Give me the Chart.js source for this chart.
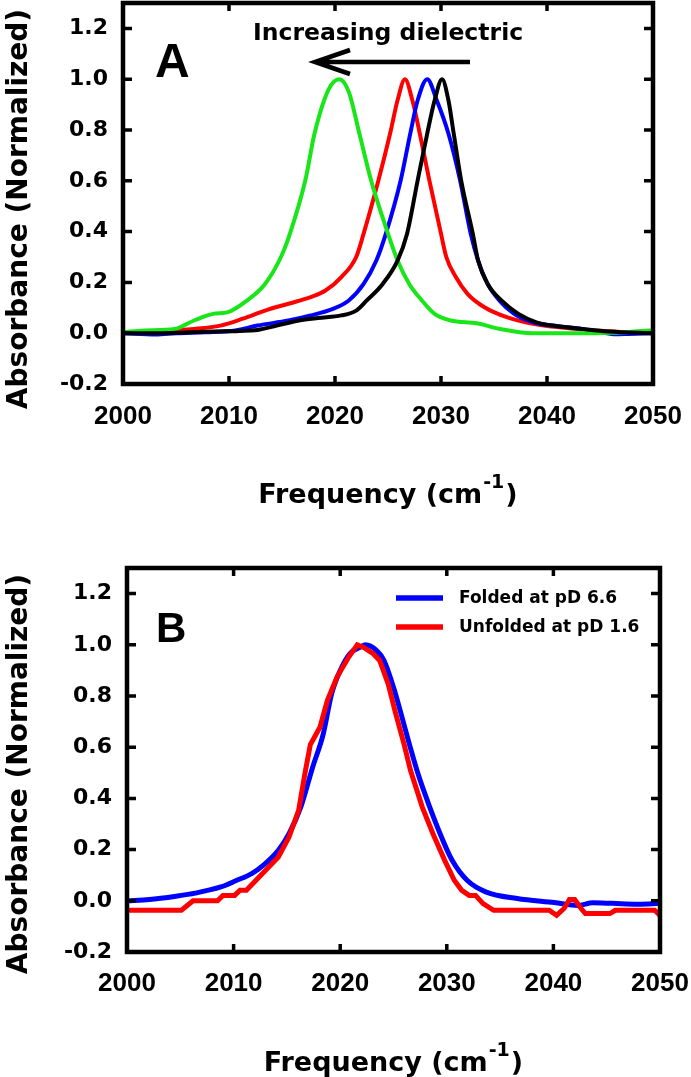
<!DOCTYPE html>
<html><head><meta charset="utf-8">
<script src="https://cdn.jsdelivr.net/npm/chart.js@4.4.1/dist/chart.umd.min.js"></script>
<style>
html,body{margin:0;padding:0;background:#fff;width:691px;height:1077px;overflow:hidden}
canvas{position:absolute;left:0}
#cA{top:0}
#cB{top:538px}
</style></head><body>
<canvas id="cA" width="691" height="538"></canvas>
<canvas id="cB" width="691" height="539"></canvas>
<script>
// ---- tick labels ----
const xTicks = [2000, 2010, 2020, 2030, 2040, 2050];
const yTicks = [-0.2, 0, 0.2, 0.4, 0.6, 0.8, 1.0, 1.2];

// ---- Panel A series ----
const aGreenFreq = [2000, 2002, 2004.9, 2006.7, 2008.5, 2009.9, 2011.7, 2013.4, 2014.9, 2015.75, 2017.2, 2018.07, 2019.4, 2020.4, 2021.3, 2022.3, 2023.4, 2025.0, 2025.9, 2027.0, 2028.2, 2029.4, 2030.9, 2033.4, 2035.5, 2038.7, 2042.2, 2047.6, 2049.7, 2050];
const aGreenAbs  = [0.004, 0.011, 0.017, 0.05, 0.076, 0.083, 0.129, 0.194, 0.30, 0.392, 0.602, 0.786, 0.96, 1.0, 0.95, 0.786, 0.602, 0.392, 0.286, 0.194, 0.129, 0.076, 0.05, 0.039, 0.017, 0.0, 0.0, 0.004, 0.011, 0.008];

const aRedFreq = [2000, 2003.1, 2006.7, 2009.2, 2011.3, 2013.4, 2015.6, 2017.7, 2019.1, 2020.6, 2022.0, 2022.7, 2024.1, 2025.2, 2025.9, 2026.6, 2027.3, 2028.0, 2028.9, 2030.0, 2030.5, 2031.4, 2032.5, 2034.1, 2036.2, 2038.7, 2042.6, 2045.8, 2050];
const aRedAbs  = [0.004, 0.008, 0.017, 0.03, 0.057, 0.089, 0.116, 0.142, 0.168, 0.221, 0.30, 0.392, 0.602, 0.786, 0.917, 1.0, 0.917, 0.786, 0.602, 0.392, 0.30, 0.221, 0.155, 0.102, 0.063, 0.037, 0.017, 0.008, 0.0];

const aBlueFreq = [2000, 2003.1, 2005, 2007.8, 2010.6, 2012.7, 2015.6, 2017.7, 2019.8, 2021.3, 2022.7, 2023.9, 2024.8, 2026.2, 2027.1, 2027.8, 2028.7, 2029.6, 2030.7, 2031.8, 2032.8, 2033.5, 2034.4, 2035.5, 2036.9, 2038.7, 2040.5, 2043.3, 2045.1, 2046.5, 2047.6, 2050];
const aBlueAbs  = [0.0, -0.005, 0.0, 0.004, 0.011, 0.03, 0.05, 0.07, 0.096, 0.129, 0.194, 0.286, 0.392, 0.602, 0.786, 0.917, 1.0, 0.917, 0.786, 0.602, 0.392, 0.286, 0.194, 0.129, 0.076, 0.043, 0.03, 0.017, 0.004, -0.004, -0.003, 0.0];

const aBlackFreq = [2000, 2003.1, 2008.5, 2012.7, 2014.5, 2016.6, 2018.4, 2020.6, 2022.0, 2023.0, 2024.5, 2025.9, 2026.8, 2027.8, 2028.7, 2029.4, 2030.1, 2030.7, 2031.2, 2031.9, 2033.0, 2033.5, 2034.4, 2035.7, 2037.3, 2039.0, 2040.5, 2043.3, 2045.8, 2050];
const aBlackAbs  = [0.0, 0.0, 0.007, 0.013, 0.03, 0.05, 0.06, 0.07, 0.089, 0.129, 0.194, 0.286, 0.392, 0.602, 0.786, 0.917, 1.0, 0.917, 0.786, 0.602, 0.392, 0.286, 0.194, 0.129, 0.076, 0.043, 0.03, 0.017, 0.007, 0.0];

// ---- Panel B series ----
const bLabels = ['Folded at pD 6.6', 'Unfolded at pD 1.6'];
const bFoldedFreq = [2000, 2002.1, 2004.6, 2006.4, 2008.8, 2010.3, 2011.7, 2012.8, 2014.2, 2015.2, 2016.3, 2017.4, 2018.4, 2019.2, 2020.0, 2020.9, 2022.0, 2022.35, 2023.4, 2024.1, 2025.0, 2025.7, 2026.5, 2027.3, 2028.4, 2029.5, 2030.5, 2031.9, 2033.7, 2036.6, 2040.1, 2042.3, 2043.7, 2045.5, 2047.9, 2050];
const bFoldedAbs  = [0.0, 0.005, 0.018, 0.03, 0.054, 0.08, 0.106, 0.139, 0.197, 0.262, 0.366, 0.52, 0.65, 0.809, 0.9, 0.965, 0.993, 1.0, 0.978, 0.939, 0.834, 0.732, 0.61, 0.496, 0.366, 0.249, 0.158, 0.08, 0.034, 0.009, -0.007, -0.018, -0.008, -0.01, -0.013, -0.01];

const bUnfoldedFreq = [2000, 2005.1, 2006.2, 2008.5, 2009.0, 2010.1, 2010.6, 2011.2, 2012.4, 2014.2, 2015.2, 2016.1, 2016.7, 2017.2, 2018.1, 2018.8, 2019.7, 2020.8, 2021.6, 2022.2, 2023.1, 2023.7, 2024.5, 2025.2, 2026.0, 2026.6, 2027.7, 2028.7, 2029.8, 2030.7, 2031.4, 2032.1, 2032.7, 2033.4, 2034.4, 2039.6, 2040.3, 2041.0, 2041.5, 2042.0, 2042.6, 2043.0, 2045.3, 2045.8, 2049.5, 2050];
const bUnfoldedAbs  = [-0.037, -0.037, 0.0, 0.0, 0.021, 0.021, 0.041, 0.041, 0.093, 0.171, 0.249, 0.353, 0.5, 0.61, 0.678, 0.783, 0.874, 0.952, 1.0, 0.99, 0.965, 0.939, 0.847, 0.732, 0.61, 0.509, 0.366, 0.262, 0.158, 0.08, 0.041, 0.021, 0.021, -0.011, -0.037, -0.037, -0.057, -0.03, 0.005, 0.005, -0.03, -0.05, -0.05, -0.037, -0.037, -0.057];

const pts = (xs, ys) => xs.map((x, i) => ({x: x, y: ys[i]}));

const FT = 'DejaVu Sans';
const FA = 'Liberation Sans';

function zeroPad(s) { s.paddingTop = 0; s.paddingBottom = 0; s.paddingLeft = 0; s.paddingRight = 0; }

function scalesCfg(yWidth, xHeight, xPad) {
  return {
    x: {
      type: 'linear', min: 2000, max: 2050,
      afterBuildTicks: s => { s.ticks = xTicks.map(v => ({value: v})); },
      afterFit: s => { s.height = xHeight; zeroPad(s); },
      grid: {display: false, drawTicks: false},
      border: {display: false},
      ticks: {color: '#000', padding: xPad, maxRotation: 0, autoSkip: false,
              font: {family: FA, size: 26, weight: 'bold'},
              callback: v => String(v)}
    },
    y: {
      type: 'linear', min: -0.2, max: 1.3,
      afterBuildTicks: s => { s.ticks = yTicks.map(v => ({value: v})); },
      afterFit: s => { s.width = yWidth; zeroPad(s); },
      grid: {display: false, drawTicks: false},
      border: {display: false},
      ticks: {color: '#000', padding: 15, autoSkip: false,
              font: {family: FT, size: 22, weight: 'bold'},
              callback: v => Number(v).toFixed(1)}
    }
  };
}

function framePlugin(o) {
  return {
    id: 'frame' + o.key,
    afterDraw(chart) {
      const ctx = chart.ctx, ca = chart.chartArea;
      const x = chart.scales.x, y = chart.scales.y;
      ctx.save();
      ctx.strokeStyle = '#000';
      ctx.lineWidth = 4.5;
      ctx.strokeRect(ca.left, ca.top, ca.right - ca.left, ca.bottom - ca.top);
      ctx.lineWidth = 3.5;
      ctx.beginPath();
      xTicks.forEach(v => {
        const px = x.getPixelForValue(v);
        ctx.moveTo(px, ca.bottom); ctx.lineTo(px, ca.bottom - 8);
        ctx.moveTo(px, ca.top); ctx.lineTo(px, ca.top + 8);
      });
      yTicks.forEach(v => {
        const py = y.getPixelForValue(v);
        ctx.moveTo(ca.left, py); ctx.lineTo(ca.left + 9, py);
        ctx.moveTo(ca.right, py); ctx.lineTo(ca.right - 9, py);
      });
      ctx.stroke();

      ctx.fillStyle = '#000';
      // x title with superscript
      const cx = (ca.left + ca.right) / 2;
      ctx.font = 'bold 27px "' + FT + '"';
      const main = 'Frequency (cm', close = ')';
      ctx.textBaseline = 'alphabetic';
      const wMain = ctx.measureText(main).width, wClose = ctx.measureText(close).width;
      ctx.font = 'bold 19px "' + FT + '"';
      const sup = '-1', wSup = ctx.measureText(sup).width + 2;
      let sx = cx - (wMain + wSup + wClose) / 2;
      ctx.font = 'bold 27px "' + FT + '"';
      ctx.textAlign = 'left';
      ctx.fillText(main, sx, o.xTitleBase);
      ctx.font = 'bold 19px "' + FT + '"';
      ctx.fillText(sup, sx + wMain + 1, o.xTitleBase - 15);
      ctx.font = 'bold 27px "' + FT + '"';
      ctx.fillText(close, sx + wMain + wSup, o.xTitleBase);

      // y title
      ctx.save();
      ctx.translate(o.yTitleX, o.yTitleC);
      ctx.rotate(-Math.PI / 2);
      ctx.font = 'bold 28px "' + FT + '"';
      ctx.textAlign = 'center';
      ctx.textBaseline = 'middle';
      ctx.fillText('Absorbance (Normalized)', 0, 0);
      ctx.restore();

      // panel letter
      ctx.font = 'bold ' + o.letterSize + 'px "' + FA + '"';
      ctx.textAlign = 'left';
      ctx.textBaseline = 'alphabetic';
      ctx.fillText(o.letter, o.letterX, o.letterBase);

      if (o.extra) o.extra(ctx, chart);
      ctx.restore();
    }
  };
}

// Panel A
new Chart(document.getElementById('cA'), {
  type: 'line',
  data: {
    datasets: [
      {label: 'black', data: pts(aBlackFreq, aBlackAbs), borderColor: '#000000', order: 0},
      {label: 'green', data: pts(aGreenFreq, aGreenAbs), borderColor: '#19e619', order: 1},
      {label: 'blue',  data: pts(aBlueFreq, aBlueAbs),   borderColor: '#0000ff', order: 2},
      {label: 'red',   data: pts(aRedFreq, aRedAbs),     borderColor: '#ff0000', order: 3}
    ].map(d => Object.assign(d, {borderWidth: 4, pointRadius: 0, fill: false, cubicInterpolationMode: 'monotone'}))
  },
  options: {
    responsive: false, animation: false, devicePixelRatio: 1,
    layout: {padding: {left: 0, right: 38, top: 3, bottom: 0}},
    plugins: {legend: {display: false}, tooltip: {enabled: false}},
    scales: scalesCfg(123, 154, 17)
  },
  plugins: [framePlugin({
    key: 'A', xTitleBase: 503, yTitleX: 20, yTitleC: 209,
    letter: 'A', letterSize: 48, letterX: 155, letterBase: 77,
    extra: (ctx) => {
      ctx.font = 'bold 23.5px "' + FT + '"';
      ctx.textAlign = 'left';
      ctx.textBaseline = 'alphabetic';
      ctx.fillText('Increasing dielectric', 253, 40);
      ctx.lineWidth = 4.5;
      ctx.lineCap = 'butt';
      ctx.beginPath();
      ctx.moveTo(470, 62); ctx.lineTo(316, 62);
      ctx.moveTo(350, 50); ctx.lineTo(315, 62); ctx.lineTo(350, 74);
      ctx.stroke();
    }
  })]
});

// Panel B
new Chart(document.getElementById('cB'), {
  type: 'line',
  data: {
    datasets: [
      {label: bLabels[0], data: pts(bFoldedFreq, bFoldedAbs), borderColor: '#0000ff', order: 1, cubicInterpolationMode: 'monotone'},
      {label: bLabels[1], data: pts(bUnfoldedFreq, bUnfoldedAbs), borderColor: '#ff0000', order: 0, tension: 0}
    ].map(d => Object.assign(d, {borderWidth: 5, pointRadius: 0, fill: false}))
  },
  options: {
    responsive: false, animation: false, devicePixelRatio: 1,
    layout: {padding: {left: 0, right: 31, top: 30, bottom: 0}},
    plugins: {legend: {display: false}, tooltip: {enabled: false}},
    scales: scalesCfg(127, 125, 16)
  },
  plugins: [framePlugin({
    key: 'B', xTitleBase: 533, yTitleX: 20, yTitleC: 236,
    letter: 'B', letterSize: 42, letterX: 156, letterBase: 104,
    extra: (ctx, chart) => {
      const rows = [60, 89];
      chart.data.datasets.forEach((d, i) => {
        ctx.strokeStyle = d.borderColor;
        ctx.lineWidth = 5.5;
        ctx.beginPath();
        ctx.moveTo(396, rows[i]); ctx.lineTo(443, rows[i]);
        ctx.stroke();
        ctx.fillStyle = '#000';
        ctx.font = 'bold 17px "' + FT + '"';
        ctx.textAlign = 'left';
        ctx.textBaseline = 'middle';
        ctx.fillText(d.label, 459, rows[i] + 1);
      });
    }
  })]
});
</script>
</body></html>
